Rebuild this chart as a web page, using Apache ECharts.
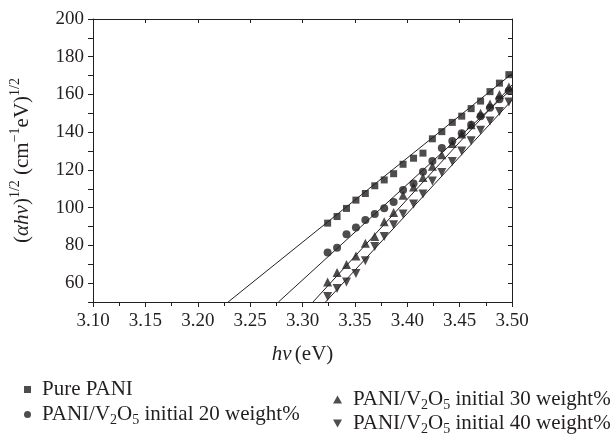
<!DOCTYPE html>
<html>
<head>
<meta charset="utf-8">
<script src="https://cdn.jsdelivr.net/npm/echarts@6/dist/echarts.min.js"></script>
<style>
html,body{margin:0;padding:0;background:#fff;}
#chart{width:614px;height:436px;}
</style>
</head>
<body>
<div id="chart"></div>
<script>
// ---- data ----
const hv = [3.324, 3.333, 3.342, 3.351, 3.360, 3.369, 3.378, 3.387, 3.396, 3.406,
            3.415, 3.424, 3.433, 3.443, 3.452, 3.461, 3.470, 3.479, 3.488, 3.497];
const purePANI = [91.8, 95.3, 99.6, 104.0, 107.5, 111.6, 114.7, 118.0, 123.0, 126.2,
                  128.9, 136.5, 140.3, 145.2, 148.5, 152.5, 156.5, 161.5, 166.0, 170.5];
const pani20 = [76.2, 78.8, 85.9, 89.5, 93.4, 96.6, 99.7, 103.0, 109.4, 112.8,
                119.0, 124.8, 131.6, 135.4, 139.5, 144.0, 148.5, 153.0, 157.5, 162.0];
const pani30 = [60.6, 65.6, 69.9, 74.4, 81.2, 84.7, 92.5, 97.5, 106.6, 111.0,
                116.0, 122.0, 128.0, 134.0, 139.0, 144.0, 150.0, 155.0, 160.0, 164.0];
const pani40 = [52.9, 57.1, 60.6, 65.1, 71.8, 79.4, 84.7, 90.9, 96.6, 101.9,
                107.2, 114.2, 118.7, 124.5, 130.0, 135.5, 141.0, 146.0, 151.0, 156.0];
// linear fit lines: [x, y] end points
const fitPANI = [[3.229, 50], [3.50, 171]];
const fit20 = [[3.277, 50], [3.50, 163]];
const fit30 = [[3.310, 50], [3.50, 165]];
const fit40 = [[3.322, 50], [3.50, 157]];
const seriesNames = ['Pure PANI', 'PANI/V2O5 initial 20 weight%', 'PANI/V2O5 initial 30 weight%', 'PANI/V2O5 initial 40 weight%'];
const xTicks = [3.10, 3.15, 3.20, 3.25, 3.30, 3.35, 3.40, 3.45, 3.50];
const yTicks = [60, 80, 100, 120, 140, 160, 180, 200];

const FONT = '"Liberation Serif", "DejaVu Serif", serif';
const INK = '#231f20';
const downTri = 'path://M0,0L10,0L5,8.66Z';

function pairs(xs, ys) { return xs.map((x, i) => [x, ys[i]]); }
function legendFmt(name) {
  if (name === 'Pure PANI') return '{g|}{n|Pure PANI}';
  const m = name.match(/initial (\d+) weight%/);
  return '{g|}{n|PANI/V}{sub|2}{n|O}{sub|5}{n| initial ' + m[1] + ' weight%}';
}
const legendRich = {
  g: { width: 6, height: 10 },
  n: { fontFamily: FONT, fontSize: 21, color: INK, lineHeight: 25, verticalAlign: 'middle' },
  sub: { fontFamily: FONT, fontSize: 14, color: INK, lineHeight: 12, verticalAlign: 'bottom' }
};
function legendItem(name, icon, left, top, w, h) {
  return {
    orient: 'horizontal', left: left, top: top, padding: 0, itemGap: 0,
    itemWidth: w, itemHeight: h, selectedMode: false,
    data: [{ name: name, icon: icon }],
    formatter: legendFmt, textStyle: { rich: legendRich }
  };
}

const chart = echarts.init(document.getElementById('chart'), null, { renderer: 'canvas' });
const axisLineStyle = { color: INK, width: 1 };

function scatter(name, ys, symbol, size) {
  return {
    name: name, type: 'scatter', xAxisIndex: 0, yAxisIndex: 0,
    data: pairs(hv, ys), symbol: symbol, symbolSize: size,
    itemStyle: { color: INK }, z: 3
  };
}
function fit(data) {
  return {
    type: 'line', xAxisIndex: 0, yAxisIndex: 0, data: data, symbol: 'none',
    lineStyle: { color: INK, width: 1 }, silent: true, z: 2
  };
}

chart.setOption({
  animation: false,
  backgroundColor: '#fff',
  grid: { left: 90, right: 102, top: 19, bottom: 134, containLabel: false },
  legend: [
    legendItem(seriesNames[0], 'rect', 24, 379, 7, 7),
    legendItem(seriesNames[1], 'circle', 24, 404, 7, 7),
    legendItem(seriesNames[2], 'triangle', 333, 389, 9, 8),
    legendItem(seriesNames[3], downTri, 333, 413, 9, 8)
  ],
  xAxis: [
    {
      type: 'value', min: 3.10, max: 3.50, interval: 0.05, position: 'bottom',
      name: '{i|hν} {n|(eV)}', nameLocation: 'middle', nameGap: 42,
      nameTextStyle: { rich: {
        i: { fontFamily: FONT, fontSize: 21, fontStyle: 'italic', color: INK },
        n: { fontFamily: FONT, fontSize: 21, color: INK }
      } },
      axisLine: { lineStyle: axisLineStyle, onZero: false },
      axisTick: { inside: false, length: 5, lineStyle: axisLineStyle },
      minorTick: { show: true, splitNumber: 2, length: 4, lineStyle: axisLineStyle },
      splitLine: { show: false },
      axisLabel: {
        fontFamily: FONT, fontSize: 19, color: INK, margin: 10,
        formatter: v => (xTicks.some(t => Math.abs(t - v) < 1e-6) ? v.toFixed(2) : '')
      }
    },
    {
      type: 'value', min: 3.10, max: 3.50, interval: 0.05, position: 'top',
      axisLine: { lineStyle: axisLineStyle, onZero: false },
      axisTick: { inside: true, length: 4, lineStyle: axisLineStyle },
      minorTick: { show: false },
      splitLine: { show: false }, axisLabel: { show: false }
    }
  ],
  yAxis: [
    {
      type: 'value', min: 50, max: 200, interval: 10, position: 'left',
      name: '{n|(}{i|αhν}{n|)}{sup|1/2}{n| (cm}{sup|−1}{n|eV)}{sup|1/2}',
      nameLocation: 'middle', nameGap: 57, nameRotate: 90,
      nameTextStyle: { rich: {
        n: { fontFamily: FONT, fontSize: 21, color: INK, lineHeight: 28, verticalAlign: 'middle' },
        i: { fontFamily: FONT, fontSize: 21, fontStyle: 'italic', color: INK, lineHeight: 28, verticalAlign: 'middle' },
        sup: { fontFamily: FONT, fontSize: 14, color: INK, lineHeight: 12, verticalAlign: 'top' }
      } },
      axisLine: { lineStyle: axisLineStyle, onZero: false },
      axisTick: { inside: false, length: 5, lineStyle: axisLineStyle },
      splitLine: { show: false },
      axisLabel: {
        fontFamily: FONT, fontSize: 19, color: INK, margin: 9,
        formatter: v => (yTicks.indexOf(Math.round(v)) >= 0 ? String(Math.round(v)) : '')
      }
    },
    {
      type: 'value', min: 50, max: 200, interval: 10, position: 'right',
      axisLine: { show: true, lineStyle: axisLineStyle, onZero: false },
      axisTick: { show: true, inside: true, length: 4, lineStyle: axisLineStyle },
      splitLine: { show: false }, axisLabel: { show: false }
    }
  ],
  series: [
    scatter(seriesNames[0], purePANI, 'rect', 7),
    scatter(seriesNames[1], pani20, 'circle', 8),
    scatter(seriesNames[2], pani30, 'triangle', 9),
    scatter(seriesNames[3], pani40, downTri, 9),
    fit(fitPANI), fit(fit20), fit(fit30), fit(fit40)
  ]
});
</script>
</body>
</html>
